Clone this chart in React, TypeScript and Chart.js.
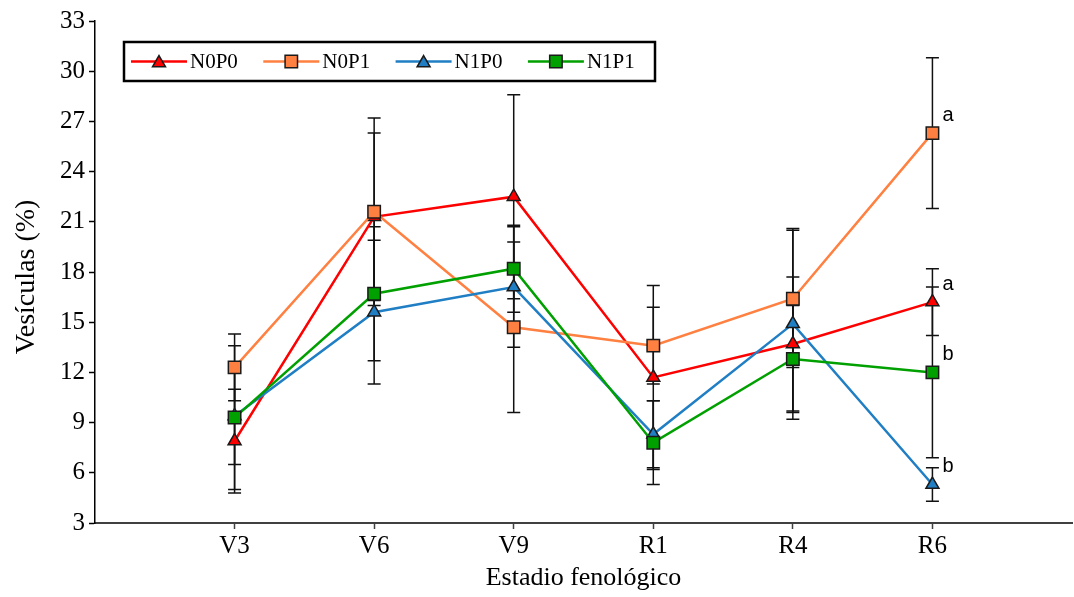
import React, { useEffect, useRef } from 'react';
import { Chart, registerables } from 'chart.js';

Chart.register(...registerables);

const categories = ['V3', 'V6', 'V9', 'R1', 'R4', 'R6'];
const seriesNames = ['N0P0', 'N0P1', 'N1P0', 'N1P1'];

const n0p0 = [7.9, 21.3, 22.5, 11.7, 13.7, 16.2];
const n0p0Err = [3.1, 5.0, 6.1, 5.5, 4.0, 2.0];
const n0p1 = [12.3, 21.6, 14.7, 13.6, 16.4, 26.3];
const n0p1Err = [2.0, 5.6, 5.1, 2.3, 4.1, 4.5];
const n1p0 = [9.4, 15.6, 17.1, 8.3, 14.9, 5.3];
const n1p0Err = [2.9, 4.3, 3.6, 2.0, 5.7, 1.0];
const n1p1 = [9.3, 16.7, 18.2, 7.8, 12.8, 12.0];
const n1p1Err = [4.3, 4.0, 2.6, 2.5, 3.2, 5.1];

const yMin = 3;
const yMax = 33;
const yStep = 3;

const xTitle = 'Estadio fenológico';
const yTitle = 'Vesículas (%)';

// significance letters at R6
const letterSeries = [1, 0, 3, 2];
const letterText = ['a', 'a', 'b', 'b'];
const letterCategory = 5;

const values = [n0p0, n0p1, n1p0, n1p1];
const errors = [n0p0Err, n0p1Err, n1p0Err, n1p1Err];
const lineColors = ['#FF0000', '#FF8040', '#1F7EC4', '#00A000'];
const pointStyles = ['triangle', 'rect', 'triangle', 'rect'];
const pointRadii = [7.5, 8.8, 7.5, 8.8];

const SERIF = "'Liberation Serif', 'Times New Roman', serif";
const SANS = "'Liberation Sans', Arial, sans-serif";

const errorBarPlugin = {
  id: 'errorBars',
  beforeDatasetsDraw(chart: any) {
    const { ctx, scales } = chart;
    const xs = scales.x;
    const ys = scales.y;
    ctx.save();
    ctx.strokeStyle = '#111';
    ctx.lineWidth = 1.5;
    values.forEach((arr, s) => {
      arr.forEach((v, i) => {
        const e = errors[s][i];
        const px = xs.getPixelForValue(i);
        const top = ys.getPixelForValue(v + e);
        const bot = ys.getPixelForValue(v - e);
        ctx.beginPath();
        ctx.moveTo(px, top);
        ctx.lineTo(px, bot);
        ctx.moveTo(px - 6.5, top);
        ctx.lineTo(px + 6.5, top);
        ctx.moveTo(px - 6.5, bot);
        ctx.lineTo(px + 6.5, bot);
        ctx.stroke();
      });
    });
    ctx.restore();
  },
};

function drawMarker(ctx: CanvasRenderingContext2D, style: string, x: number, y: number, r: number, color: string) {
  ctx.beginPath();
  if (style === 'rect') {
    const h = r * Math.SQRT1_2;
    ctx.rect(x - h, y - h, 2 * h, 2 * h);
  } else {
    ctx.moveTo(x, y - r);
    ctx.lineTo(x + r * Math.sin((2 * Math.PI) / 3), y + r / 2);
    ctx.lineTo(x - r * Math.sin((2 * Math.PI) / 3), y + r / 2);
    ctx.closePath();
  }
  ctx.fillStyle = color;
  ctx.fill();
  ctx.lineWidth = 1.5;
  ctx.strokeStyle = '#1a1a1a';
  ctx.stroke();
}

const legendPlugin = {
  id: 'customLegend',
  afterDraw(chart: any) {
    const { ctx, chartArea } = chart;
    const left = chartArea.left + 29;
    const top = chartArea.top + 21;
    const w = 531;
    const h = 39;
    ctx.save();
    ctx.lineWidth = 2.5;
    ctx.strokeStyle = '#000';
    ctx.strokeRect(left, top, w, h);
    const cy = top + h / 2;
    seriesNames.forEach((name, i) => {
      const x0 = left + 7 + i * 132.3;
      ctx.beginPath();
      ctx.moveTo(x0, cy);
      ctx.lineTo(x0 + 56, cy);
      ctx.strokeStyle = lineColors[i];
      ctx.lineWidth = 2.5;
      ctx.stroke();
      drawMarker(ctx, pointStyles[i], x0 + 28, cy + (pointStyles[i] === 'triangle' ? 1.5 : 0), pointRadii[i], lineColors[i]);
      ctx.fillStyle = '#000';
      ctx.font = `21px ${SERIF}`;
      ctx.textAlign = 'left';
      ctx.textBaseline = 'middle';
      ctx.fillText(name, x0 + 59, cy + 1);
    });

    // y-axis title
    ctx.save();
    ctx.translate(27, 277);
    ctx.rotate(-Math.PI / 2);
    ctx.font = `28px ${SERIF}`;
    ctx.fillStyle = '#000';
    ctx.textAlign = 'center';
    ctx.textBaseline = 'middle';
    ctx.fillText(yTitle, 0, 0);
    ctx.restore();

    ctx.restore();
  },
};

const letterPlugin = {
  id: 'letters',
  afterDatasetsDraw(chart: any) {
    const { ctx, scales } = chart;
    ctx.save();
    ctx.fillStyle = '#000';
    ctx.font = `20px ${SANS}`;
    ctx.textAlign = 'left';
    ctx.textBaseline = 'middle';
    letterSeries.forEach((s, k) => {
      const px = scales.x.getPixelForValue(letterCategory);
      const py = scales.y.getPixelForValue(values[s][letterCategory]);
      ctx.fillText(letterText[k], px + 10, py - 18);
    });
    ctx.restore();
  },
};

export default function App() {
  const canvasRef = useRef<HTMLCanvasElement | null>(null);

  useEffect(() => {
    document.body.style.margin = '0';
    document.body.style.overflow = 'hidden';
    const canvas = canvasRef.current;
    if (!canvas) return;

    const datasets = seriesNames.map((name, s) => ({
      label: name,
      data: values[s].map((v, i) => ({ x: i, y: v })),
      borderColor: lineColors[s],
      backgroundColor: lineColors[s],
      borderWidth: 2.5,
      pointStyle: pointStyles[s],
      pointRadius: pointRadii[s],
      pointBackgroundColor: lineColors[s],
      pointBorderColor: '#1a1a1a',
      pointBorderWidth: 1.5,
      tension: 0,
      order: 4 - s,
      clip: false as any,
    }));

    const chart = new Chart(canvas, {
      type: 'line',
      data: { datasets },
      plugins: [errorBarPlugin, letterPlugin, legendPlugin],
      options: {
        responsive: false,
        animation: false,
        layout: { autoPadding: false, padding: { top: 21, right: 2, left: 0, bottom: 0 } },
        plugins: {
          legend: { display: false },
          tooltip: { enabled: false },
        },
        scales: {
          x: {
            type: 'linear',
            min: -1,
            max: 6,
            afterFit: (scale: any) => {
              scale.height = 74;
              scale.paddingRight = 0;
              scale.paddingLeft = 0;
            },
            afterBuildTicks: (scale: any) => {
              const t = [];
              for (let v = -1; v <= 6; v++) t.push({ value: v });
              scale.ticks = t;
            },
            ticks: {
              autoSkip: false,
              maxRotation: 0,
              padding: 2,
              color: '#000',
              font: { family: SERIF, size: 25 },
              callback: (v: any) => (categories[v as number] !== undefined ? categories[v as number] : ''),
            },
            grid: {
              drawOnChartArea: false,
              drawTicks: true,
              tickLength: 6,
              tickWidth: 1.5,
              tickColor: (c: any) =>
                c.tick && c.tick.value >= 0 && c.tick.value <= 5 ? '#404040' : 'rgba(0,0,0,0)',
            },
            border: { color: '#404040', width: 2 },
            title: {
              display: true,
              text: xTitle,
              color: '#000',
              font: { family: SERIF, size: 26 },
              padding: { top: 0, bottom: 3 },
            },
          },
          y: {
            type: 'linear',
            min: yMin,
            max: yMax,
            afterFit: (scale: any) => {
              scale.width = 95;
            },
            ticks: {
              stepSize: yStep,
              padding: 4,
              color: '#000',
              font: { family: SERIF, size: 25 },
            },
            grid: {
              drawOnChartArea: false,
              drawTicks: true,
              tickLength: 6,
              tickWidth: 1.5,
              tickColor: '#000',
            },
            border: { color: '#000', width: 1.5 },
            title: { display: false },
          },
        },
      } as any,
    });

    return () => {
      chart.destroy();
    };
  }, []);

  return (
    <div style={{ width: 1074, height: 597 }}>
      <canvas ref={canvasRef} width={1074} height={597} style={{ display: 'block' }} />
    </div>
  );
}
